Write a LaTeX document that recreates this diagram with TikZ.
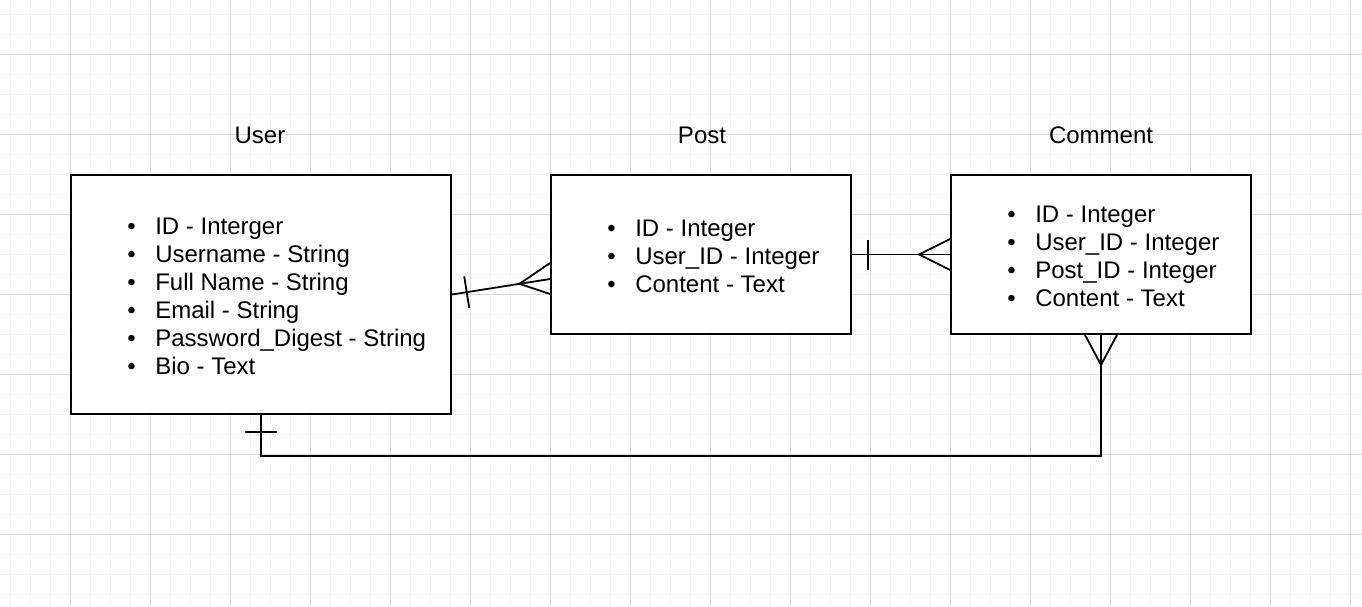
\documentclass[tikz,border=0pt]{standalone}
\usepackage{fontspec}
\setmainfont{Liberation Sans}
\usetikzlibrary{calc}
\tikzset{
  entity/.style={draw, line width=1.8pt, fill=white, inner sep=0pt},
  title/.style={font=\fontsize{24}{28}\selectfont, anchor=base},
  attrs/.style={font=\fontsize{24}{28}\selectfont, anchor=base west, inner sep=0pt},
  rel/.style={line width=1.8pt},
  gridminor/.style={draw=black!4, line width=1pt},
  gridmajor/.style={draw=black!14, line width=1pt}
}
\newcommand{\attr}[1]{\makebox[28pt][l]{\textbullet}#1}
\begin{document}
\begin{tikzpicture}[x=1pt,y=-1pt]
% Fondo
\fill[white] (0,0) rectangle (1362,606);
\useasboundingbox (0,0) rectangle (1362,606);
\foreach \x in {10,30,...,1350} \draw[gridminor] (\x,0) -- (\x,606);
\foreach \y in {14,34,...,594} \draw[gridminor] (0,\y) -- (1362,\y);
\foreach \x in {70,150,...,1350} \draw[gridmajor] (\x,0) -- (\x,606);
\foreach \y in {54,134,...,534} \draw[gridmajor] (0,\y) -- (1362,\y);
% Entidades
\node[entity, minimum width=380pt, minimum height=239pt] (user) at (261,294.5) {};
\node[entity, minimum width=300pt, minimum height=159pt] (post) at (701,254.5) {};
\node[entity, minimum width=300pt, minimum height=159pt] (comment) at (1101,254.5) {};
% Titulos
\node[title] (usertitle) at ($(user.north)+(-1,-31)$) {User};
\node[title] (posttitle) at ($(post.north)+(1,-31)$) {Post};
\node[title] (commenttitle) at ($(comment.north)+(0,-31)$) {Comment};
% Atributos
\node[attrs] (userattrs) at ($(user.north west)+(57,60)$) {\begin{tabular}[t]{@{}l@{}}
  \attr{ID - Interger}\\
  \attr{Username - String}\\
  \attr{Full Name - String}\\
  \attr{Email - String}\\
  \attr{Password\_Digest - String}\\
  \attr{Bio - Text}
\end{tabular}};
\node[attrs] (postattrs) at ($(post.north west)+(57,62)$) {\begin{tabular}[t]{@{}l@{}}
  \attr{ID - Integer}\\
  \attr{User\_ID - Integer}\\
  \attr{Content - Text}
\end{tabular}};
\node[attrs] (commentattrs) at ($(comment.north west)+(57,48)$) {\begin{tabular}[t]{@{}l@{}}
  \attr{ID - Integer}\\
  \attr{User\_ID - Integer}\\
  \attr{Post\_ID - Integer}\\
  \attr{Content - Text}
\end{tabular}};
% User - Post
\coordinate (up) at ($(post.west)+(0,24.5)$);
\draw[rel] (user.east) -- (up);
\coordinate (ut) at ($(user.east)!15pt!(up)$);
\draw[rel] ($(ut)!16pt!90:(up)$) -- ($(ut)!16pt!-90:(up)$);
\draw[rel] ($(up)+(0,-16)$) -- ($(up)!31pt!(user.east)$) -- ($(up)+(0,15)$);
% Post - Comment
\draw[rel] (post.east) -- (comment.west);
\draw[rel] ($(post.east)+(16,-15)$) -- ($(post.east)+(16,15)$);
\draw[rel] ($(comment.west)+(0,-15.5)$) -- ($(comment.west)+(-31,0)$) -- ($(comment.west)+(0,15.5)$);
% User - Comment
\draw[rel] (user.south) -- ++(0,41) -| (comment.south);
\draw[rel] ($(user.south)+(-16,17)$) -- ($(user.south)+(16,17)$);
\draw[rel] ($(comment.south)+(-16,0)$) -- ($(comment.south)+(0,30)$) -- ($(comment.south)+(16,0)$);
\end{tikzpicture}
\end{document}
